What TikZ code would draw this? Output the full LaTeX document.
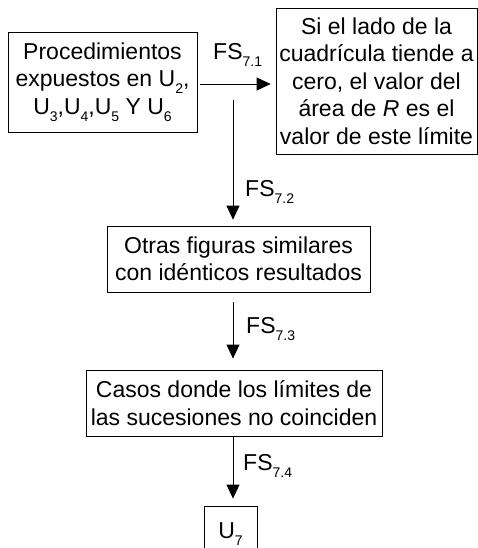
\documentclass[tikz,border=0pt]{standalone}
\usepackage{fontspec}
\setmainfont{Liberation Sans}
\usetikzlibrary{arrows.meta}
\newcommand\lowsub[1]{\raisebox{-7pt}{\fontsize{14}{14}\selectfont #1}}
\begin{document}
\begin{tikzpicture}[x=1pt,y=-1pt,
  box/.style={draw, line width=0.8pt, inner sep=0pt, align=center,
    font=\fontsize{23}{27.5}\selectfont},
  arr/.style={draw, line width=0.8pt, -{Triangle[length=14pt,width=13pt]}},
  lbl/.style={anchor=base west, inner sep=0pt, font=\fontsize{23}{27.5}\selectfont}]
\useasboundingbox (0,0) rectangle (478,548);
\begin{scope}
\clip (0,0) rectangle (478,548);
\node[box, minimum width=189pt, minimum height=100pt] (b1) at (102.5,82)
  {Procedimientos\\expuestos en U\lowsub{2},\\U\lowsub{3},U\lowsub{4},U\lowsub{5} Y U\lowsub{6}};
\node[box, minimum width=201pt, minimum height=146pt] (b2) at (376.5,81)
  {Si el lado de la\\cuadrícula tiende a\\cero, el valor del\\área de \textit{R} es el\\valor de este límite};
\node[box, minimum width=263pt, minimum height=66pt] (b3) at (238.5,259)
  {Otras figuras similares\\con idénticos resultados};
\node[box, minimum width=296pt, minimum height=66pt] (b4) at (234,403)
  {Casos donde los límites de\\las sucesiones no coinciden};
\node[box, minimum width=53pt, minimum height=50pt, text depth=0pt] (b5) at (230.5,531)
  {U\lowsub{7}};
\coordinate (s1) at (200,84);
\coordinate (s2) at (233,100);
\draw[arr] (s1) -- ([xshift=-5pt]b2.west |- s1);
\draw[arr] (s2) -- ([yshift=6pt]b3.north -| s2);
\draw[arr] ([yshift=-10pt]b3.south -| s2) -- ([yshift=11pt]b4.north -| s2);
\draw[arr] (b4.south -| s2) -- ([yshift=7pt]b5.north -| s2);
\node[lbl] (l1) at (213,60) {FS\lowsub{7.1}};
\node[lbl] (l2) at (245,196) {FS\lowsub{7.2}};
\node[lbl] (l3) at (246,333) {FS\lowsub{7.3}};
\node[lbl] (l4) at (243,470) {FS\lowsub{7.4}};
\end{scope}
\end{tikzpicture}
\end{document}
